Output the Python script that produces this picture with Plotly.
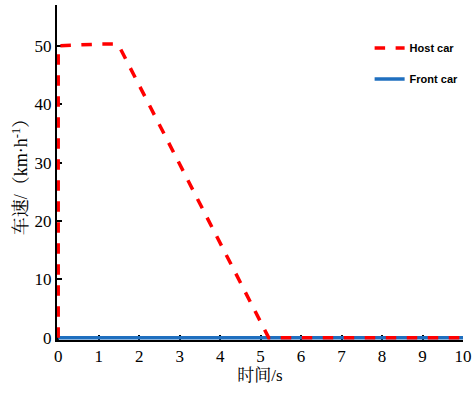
import plotly.graph_objects as go

host_t = [0, 0, 1.0, 1.4, 1.5, 5.2, 10]
host_v = [0, 50, 50.3, 50.3, 50.0, 0, 0]
front_t = [0, 10]
front_v = [0, 0]
x_ticks = [0, 1, 2, 3, 4, 5, 6, 7, 8, 9, 10]
y_ticks = [0, 10, 20, 30, 40, 50]

serif = "Liberation Serif, Times New Roman, Noto Serif CJK SC, Noto Sans CJK SC, serif"

fig = go.Figure()
fig.add_trace(go.Scatter(x=front_t, y=front_v, mode="lines", name="<b>Front car</b>",
                         legendgroup="b", legendrank=2,
                         line=dict(color="#1f6fbf", width=3.5)))
fig.add_trace(go.Scatter(x=host_t, y=host_v, mode="lines", name="<b>Host car</b>",
                         legendgroup="a", legendrank=1,
                         line=dict(color="#ff0000", width=3.5, dash="dash")))

fig.update_layout(
    width=476, height=394,
    margin=dict(l=57, r=13, t=5, b=54),
    plot_bgcolor="white", paper_bgcolor="white",
    showlegend=True,
    legend=dict(x=0.77, y=0.915, xanchor="left", yanchor="top", bgcolor="rgba(0,0,0,0)",
                font=dict(family="Liberation Sans, Arial, sans-serif", size=11, color="black"),
                tracegroupgap=12, itemwidth=30),
    xaxis=dict(range=[-0.03, 10], tickvals=x_ticks, ticks="inside", ticklen=5, tickwidth=2,
               tickcolor="black", showline=True, linecolor="black", linewidth=2,
               showgrid=False, zeroline=False, layer="below traces",
               tickfont=dict(family=serif, size=17, color="black"),
               title=dict(text="时间/s", font=dict(family=serif, size=17, color="black"), standoff=4)),
    yaxis=dict(range=[-0.4, 57], tickvals=y_ticks, ticks="inside", ticklen=5, tickwidth=2,
               tickcolor="black", showline=True, linecolor="black", linewidth=2,
               showgrid=False, zeroline=False, layer="below traces",
               tickfont=dict(family=serif, size=17, color="black"),
               title=dict(text="车速/（km·h<sup>-1</sup>）", font=dict(family=serif, size=18, color="black"), standoff=2)),
)

fig.write_html("out.html")
